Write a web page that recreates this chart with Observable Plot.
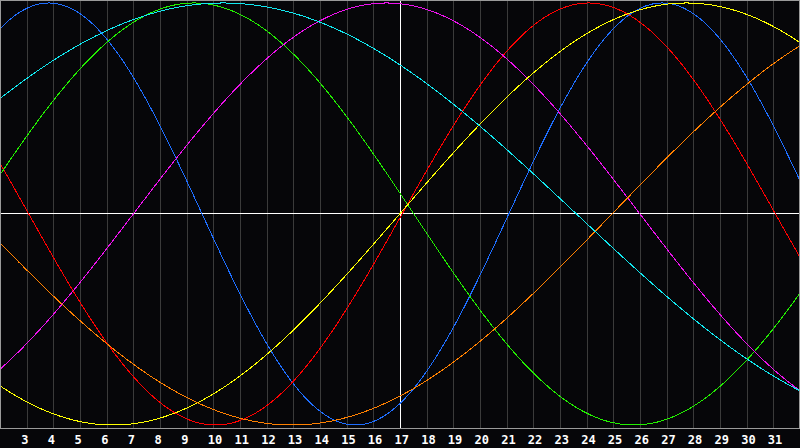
<!DOCTYPE html>
<html><head><meta charset="utf-8">
<script src="https://cdn.jsdelivr.net/npm/d3@7"></script>
<script src="https://cdn.jsdelivr.net/npm/@observablehq/plot@0.6"></script>
<style>
html,body{margin:0;padding:0;background:#060609;}
#chart svg{display:block;}
</style></head><body><div id="chart"></div>
<script>
// Biorhythm cycles
const cycleNames   = ["physical","emotional","intellectual","intuitive","aesthetic","awareness","spiritual"];
const cyclePeriods = [23, 28, 33, 38, 43, 48, 53];          // days
const cycleZeroUp  = [21.06, 17.06, 1.0, 6.98, 16.97, 24.93, -2.9]; // day of upward zero crossing
const cycleColors  = ["#1e6eff","#ff0000","#22ee00","#ee11ee","#ffff00","#ff8000","#11e8f0"];
const dayTicks = [3,4,5,6,7,8,9,10,11,12,13,14,15,16,17,18,19,20,21,22,23,24,25,26,27,28,29,30,31];
const dayDomain = [2, 32];
const today = 17;

const sampleDays = d3.range(dayDomain[0], dayDomain[1] + 0.001, 0.05);
const curves = cycleNames.flatMap((name, i) =>
  sampleDays.map(day => ({
    cycle: name,
    day,
    value: Math.sin(2 * Math.PI * (day - cycleZeroUp[i]) / cyclePeriods[i])
  }))
);

const chart = Plot.plot({
  width: 800, height: 448,
  marginTop: 0, marginBottom: 20, marginLeft: 0, marginRight: 0,
  x: {domain: dayDomain, axis: null},
  y: {domain: [-1.0166, 1.0118], axis: null},
  color: {domain: cycleNames, range: cycleColors},
  style: {background: "#060609", overflow: "visible"},
  marks: [
    Plot.ruleX(dayTicks, {stroke: "#3a3a3a", shapeRendering: "crispEdges"}),
    Plot.ruleY([0], {stroke: "#ffffff", shapeRendering: "crispEdges"}),
    Plot.ruleX([today], {stroke: "#ffffff", shapeRendering: "crispEdges"}),
    Plot.line(curves, {x: "day", y: "value", z: "cycle", stroke: "cycle", strokeWidth: 1, shapeRendering: "crispEdges"}),
    Plot.frame({stroke: "#9a9a9a", insetRight: 1, shapeRendering: "crispEdges"}),
    Plot.text(dayTicks, {
      x: d => d, frameAnchor: "bottom", textAnchor: "start", lineAnchor: "bottom",
      dx: -6, dy: 15, fill: "#ffffff", fontSize: 12, fontWeight: "bold",
      fontFamily: "DejaVu Sans Mono"
    })
  ]
});
document.getElementById("chart").appendChild(chart);
</script>
</body></html>
